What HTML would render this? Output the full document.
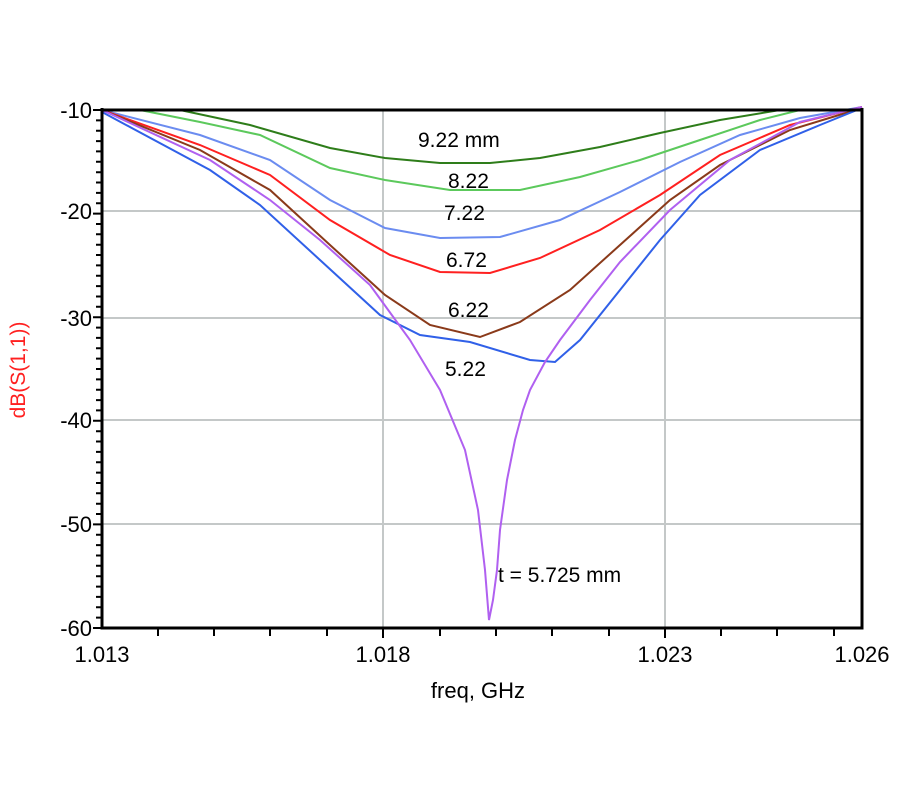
<!DOCTYPE html>
<html><head><meta charset="utf-8"><style>
body{margin:0;background:#fff}
svg text{font-family:"Liberation Sans",sans-serif;}
</style></head><body>
<svg width="900" height="800" viewBox="0 0 900 800" xmlns="http://www.w3.org/2000/svg">
<rect width="900" height="800" fill="#fff"/>
<g stroke="#c4c8c8" stroke-width="2">
<line x1="102" y1="211" x2="862" y2="211"/>
<line x1="102" y1="318" x2="862" y2="318"/>
<line x1="102" y1="420" x2="862" y2="420"/>
<line x1="102" y1="524" x2="862" y2="524"/>
<line x1="383" y1="110" x2="383" y2="628"/>
<line x1="665" y1="110" x2="665" y2="628"/>
</g>
<path stroke="#000" stroke-width="2" fill="none" d="M93 110H102M96 120.4H102M96 130.7H102M96 141.1H102M96 151.4H102M96 161.8H102M96 172.2H102M96 182.5H102M96 192.9H102M96 203.2H102M93 213.6H102M96 224H102M96 234.3H102M96 244.7H102M96 255H102M96 265.4H102M96 275.8H102M96 286.1H102M96 296.5H102M96 306.8H102M93 317.2H102M96 327.6H102M96 337.9H102M96 348.3H102M96 358.6H102M96 369H102M96 379.4H102M96 389.7H102M96 400.1H102M96 410.4H102M93 420.8H102M96 431.2H102M96 441.5H102M96 451.9H102M96 462.2H102M96 472.6H102M96 483H102M96 493.3H102M96 503.7H102M96 514H102M93 524.4H102M96 534.8H102M96 545.1H102M96 555.5H102M96 565.8H102M96 576.2H102M96 586.6H102M96 596.9H102M96 607.3H102M96 617.6H102M93 628H102"/>
<g fill="none" stroke-width="2">
<polyline stroke="#2e7d1a" points="102,110 180,110 250,125 330,148 385,158 440,163 490,163 540,158 600,147 660,133 720,120 780,110 862,110"/>
<polyline stroke="#5cc95c" points="140,110 200,122 260,135 330,168 385,180 450,190 520,190 580,177 640,160 700,140 760,120 800,110"/>
<polyline stroke="#6b8cf0" points="102,110 200,135 270,160 330,200 385,228 440,238 500,237 560,220 620,192 680,162 740,135 800,118 862,107"/>
<polyline stroke="#ff2020" points="102,110 200,145 270,175 330,220 390,255 440,272 490,273 540,258 600,230 660,195 720,155 790,125 862,107"/>
<polyline stroke="#8a3a1a" points="102,110 200,150 270,190 330,245 385,295 430,325 480,337 520,322 570,290 620,245 670,200 720,165 790,130 862,108"/>
<polyline stroke="#3060e8" points="102,112 210,170 260,205 320,260 380,315 420,335 470,342 530,360 555,362 580,340 620,290 660,240 700,195 760,150 820,125 862,108"/>
<polyline stroke="#b060f0" points="102,110 210,160 270,200 320,240 370,285 410,340 440,390 465,450 478,510 485,570 489,620 493,600 497,570 500,530 507,480 515,440 523,410 530,390 545,362 560,340 590,300 620,262 670,210 730,160 800,122 862,107"/>
</g>
<g stroke="#000" stroke-width="3" fill="none">
<line x1="102" y1="110" x2="862" y2="110"/>
<polyline points="102,108 102,628 862,628 862,108"/>
</g>
<g stroke="#000" stroke-width="2">
<line x1="158" y1="628" x2="158" y2="636"/><line x1="214" y1="628" x2="214" y2="636"/>
<line x1="270" y1="628" x2="270" y2="636"/><line x1="327" y1="628" x2="327" y2="636"/>
<line x1="383" y1="628" x2="383" y2="638"/><line x1="440" y1="628" x2="440" y2="636"/>
<line x1="496" y1="628" x2="496" y2="636"/><line x1="552" y1="628" x2="552" y2="636"/>
<line x1="609" y1="628" x2="609" y2="636"/><line x1="665" y1="628" x2="665" y2="638"/>
<line x1="721" y1="628" x2="721" y2="636"/><line x1="777" y1="628" x2="777" y2="636"/>
<line x1="834" y1="628" x2="834" y2="636"/>
</g>
<g font-size="22" fill="#000" text-anchor="end">
<text x="92" y="118">-10</text><text x="92" y="219">-20</text>
<text x="92" y="326">-30</text><text x="92" y="428">-40</text>
<text x="92" y="532">-50</text><text x="92" y="636">-60</text>
</g>
<g font-size="22" fill="#000" text-anchor="middle">
<text x="102" y="662">1.013</text><text x="383" y="662">1.018</text>
<text x="665" y="662">1.023</text><text x="862" y="662">1.026</text>
<text x="478" y="698">freq, GHz</text>
</g>
<text transform="translate(25,370) rotate(-90)" font-size="21" fill="#ff2020" text-anchor="middle">dB(S(1,1))</text>
<g font-size="21" fill="#000">
<text x="418" y="147">9.22 mm</text>
<text x="448" y="188">8.22</text>
<text x="444" y="220">7.22</text>
<text x="446" y="267">6.72</text>
<text x="448" y="317">6.22</text>
<text x="445" y="376">5.22</text>
<text x="498" y="582">t = 5.725 mm</text>
</g>
</svg>
</body></html>
